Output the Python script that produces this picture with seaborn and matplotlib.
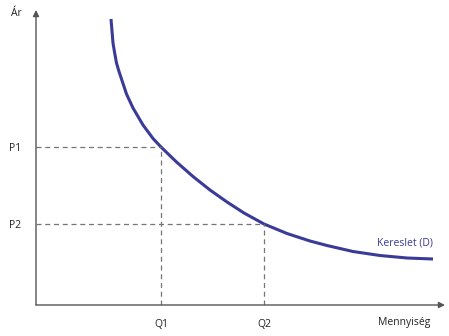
import matplotlib
matplotlib.use("Agg")
import matplotlib.pyplot as plt
import seaborn as sns
import pandas as pd

# Demand curve (quantity, price)
quantity = [75, 76, 77, 78.5, 80.5, 83, 85.5, 90.5, 97, 107, 117, 125, 140.5, 157, 174, 191, 208, 228, 251, 274, 291, 317, 344, 371, 397]
price = [286, 274, 262, 253, 242, 233.5, 226, 211, 197, 180, 166.5, 158, 143, 128.5, 115, 103, 92, 81, 71.5, 64, 59.5, 53.5, 49.5, 47, 46]
q_levels = [125, 228]
p_levels = [158, 81]
q_labels = ["Q1", "Q2"]
p_labels = ["P1", "P2"]
x_title = "Mennyiség"
y_title = "Ár"
curve_label = "Kereslet (D)"

sns.set_theme(style="white")
plt.rcParams["font.family"] = ["Open Sans", "DejaVu Sans"]

W, H = 449, 336
fig = plt.figure(figsize=(W / 100, H / 100), dpi=100)
ax = fig.add_axes([36 / W, (H - 305) / H, 409 / W, 295 / H])
ax.set_xlim(0, 409)
ax.set_ylim(0, 295)

curve_color = "#3a3a98"
df = pd.DataFrame({"q": quantity, "p": price})
sns.lineplot(data=df, x="q", y="p", ax=ax, color=curve_color, lw=2.2, sort=False,
             solid_capstyle="butt", solid_joinstyle="round")

dash_color = "#757575"
for q, p in zip(q_levels, p_levels):
    ax.plot([0, q], [p, p], color=dash_color, lw=0.9, ls=(0, (4, 3)))
    ax.plot([q, q], [0, p], color=dash_color, lw=0.9, ls=(0, (4, 3)))

for s in ax.spines.values():
    s.set_visible(False)
axis_color = "#555555"
ax.annotate("", xy=(1.0, 0), xytext=(0, 0), xycoords="axes fraction",
            arrowprops=dict(arrowstyle="-|>", color=axis_color, lw=1.0, mutation_scale=9,
                            shrinkA=0, shrinkB=0))
ax.annotate("", xy=(0, 1.0), xytext=(0, 0), xycoords="axes fraction",
            arrowprops=dict(arrowstyle="-|>", color=axis_color, lw=1.0, mutation_scale=9,
                            shrinkA=0, shrinkB=0))

ax.set_xticks(q_levels)
ax.set_xticklabels(q_labels)
ax.set_yticks(p_levels)
ax.set_yticklabels(p_labels)
ax.tick_params(axis="both", length=0, labelsize=7.5, colors="#222222")
ax.tick_params(axis="x", pad=10)
ax.tick_params(axis="y", pad=11)
ax.set_xlabel("")
ax.set_ylabel("")

ax.text(368, -17, x_title, fontsize=7.5, color="#222222", ha="center", va="center", clip_on=False)
ax.text(-20, 291, y_title, fontsize=7.5, color="#222222", ha="center", va="center", clip_on=False)
ax.text(341, 62, curve_label, fontsize=7.5, color=curve_color, ha="left", va="center")

fig.savefig("out.png", dpi=100)
